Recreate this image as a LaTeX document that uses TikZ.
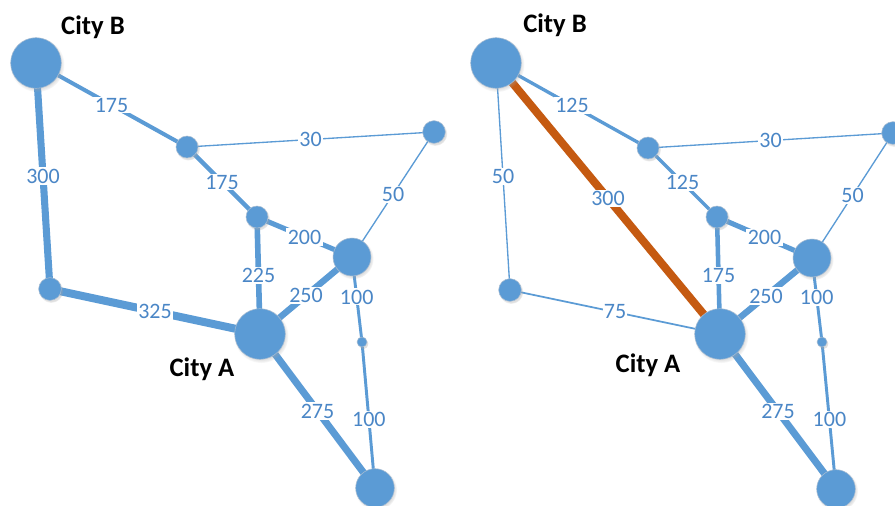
\documentclass[tikz,border=0pt]{standalone}
\usepackage{fontspec}
\setmainfont{Carlito}
\usetikzlibrary{shadows}
\definecolor{nodeblue}{HTML}{5B9BD5}
\definecolor{labblue}{HTML}{4A86C6}
\definecolor{pathorange}{HTML}{C55A11}
\definecolor{rimgray}{HTML}{A9BDD2}
\pgfdeclarelayer{edges}
\pgfdeclarelayer{bg}
\pgfsetlayers{bg,edges,main}
\begin{document}
\begin{tikzpicture}[x=0.75pt,y=-0.75pt,
  vtx/.style={circle, fill=nodeblue, draw=rimgray, line width=0.4pt, inner sep=0pt,
    minimum size=#1,
    circular drop shadow={shadow xshift=0.8pt, shadow yshift=-1.2pt, shadow scale=1.08, opacity=0.35, fill=gray!70}},
  lnk/.style={draw=nodeblue, line width=#1},
  hot/.style={draw=pathorange, line width=#1},
  lab/.style={fill=white, text=labblue, inner sep=1pt, font=\fontsize{16.5}{17}\selectfont},
  city/.style={text=black, inner sep=0pt, font=\fontsize{20}{22}\selectfont\bfseries}]
\useasboundingbox (0,0) rectangle (895,506);
\begin{pgfonlayer}{bg}
  \fill[white] (0,0) rectangle (895,506);
\end{pgfonlayer}
\clip (0,0) rectangle (895,506);

% ---------------- left graph ----------------
\node[vtx=38pt] (LB) at (36,63) {};
\node[vtx=16.5pt] (L1) at (187,147) {};
\node[vtx=17pt] (L2) at (434,132) {};
\node[vtx=16.5pt] (L3) at (257,217) {};
\node[vtx=28.5pt] (L4) at (352,257) {};
\node[vtx=17pt] (L5) at (50,289) {};
\node[vtx=38pt] (LA) at (260,334) {};
\node[vtx=7.5pt] (L6) at (362,342) {};
\node[vtx=29pt] (L7) at (375,488) {};
\node[city] (LcB) at (93,27) {City B};
\node[city] (LcA) at (202,369) {City A};
\begin{pgfonlayer}{edges}
  \draw[lnk=3pt] (LB.center) -- node[lab]{175} (L1.center);
  \draw[lnk=1pt] (L1.center) -- node[lab]{30} (L2.center);
  \draw[lnk=5.3pt] (LB.center) -- node[lab]{300} (L5.center);
  \draw[lnk=3.2pt] (L1.center) -- node[lab]{175} (L3.center);
  \draw[lnk=3.8pt] (L3.center) -- node[lab]{200} (L4.center);
  \draw[lnk=4.2pt] (L3.center) -- node[lab]{225} (LA.center);
  \draw[lnk=1pt] (L2.center) -- node[lab]{50} (L4.center);
  \draw[lnk=4.8pt] (L4.center) -- node[lab]{250} (LA.center);
  \draw[lnk=2.2pt] (L4.center) -- node[lab, pos=0.47]{100} (L6.center);
  \draw[lnk=6pt] (L5.center) -- node[lab]{325} (LA.center);
  \draw[lnk=5.3pt] (LA.center) -- node[lab]{275} (L7.center);
  \draw[lnk=2.2pt] (L6.center) -- node[lab, pos=0.53]{100} (L7.center);
\end{pgfonlayer}

% ---------------- right graph ----------------
\begin{scope}[shift={(460,0)}]
\node[vtx=38pt] (RB) at (36,63) {};
\node[vtx=16.5pt] (R1) at (188,148) {};
\node[vtx=17pt] (R2) at (433,133) {};
\node[vtx=16.5pt] (R3) at (257,217) {};
\node[vtx=28.5pt] (R4) at (352,258) {};
\node[vtx=17pt] (R5) at (50,290) {};
\node[vtx=38pt] (RA) at (260,334) {};
\node[vtx=7.5pt] (R6) at (362,342) {};
\node[vtx=29pt] (R7) at (376,489) {};
\node[city] (RcB) at (95,25) {City B};
\node[city] (RcA) at (188,365) {City A};
\begin{pgfonlayer}{edges}
  \draw[lnk=2.5pt] (RB.center) -- node[lab]{125} (R1.center);
  \draw[lnk=1pt] (R1.center) -- node[lab]{30} (R2.center);
  \draw[lnk=1pt] (RB.center) -- node[lab]{50} (R5.center);
  \draw[hot=6pt] (RB.center) -- node[lab]{300} (RA.center);
  \draw[lnk=2.5pt] (R1.center) -- node[lab]{125} (R3.center);
  \draw[lnk=3.8pt] (R3.center) -- node[lab]{200} (R4.center);
  \draw[lnk=3.4pt] (R3.center) -- node[lab]{175} (RA.center);
  \draw[lnk=1pt] (R2.center) -- node[lab]{50} (R4.center);
  \draw[lnk=4.8pt] (R4.center) -- node[lab]{250} (RA.center);
  \draw[lnk=2.2pt] (R4.center) -- node[lab, pos=0.47]{100} (R6.center);
  \draw[lnk=1.3pt] (R5.center) -- node[lab]{75} (RA.center);
  \draw[lnk=5.3pt] (RA.center) -- node[lab]{275} (R7.center);
  \draw[lnk=2.2pt] (R6.center) -- node[lab, pos=0.53]{100} (R7.center);
\end{pgfonlayer}
\end{scope}
\end{tikzpicture}
\end{document}
